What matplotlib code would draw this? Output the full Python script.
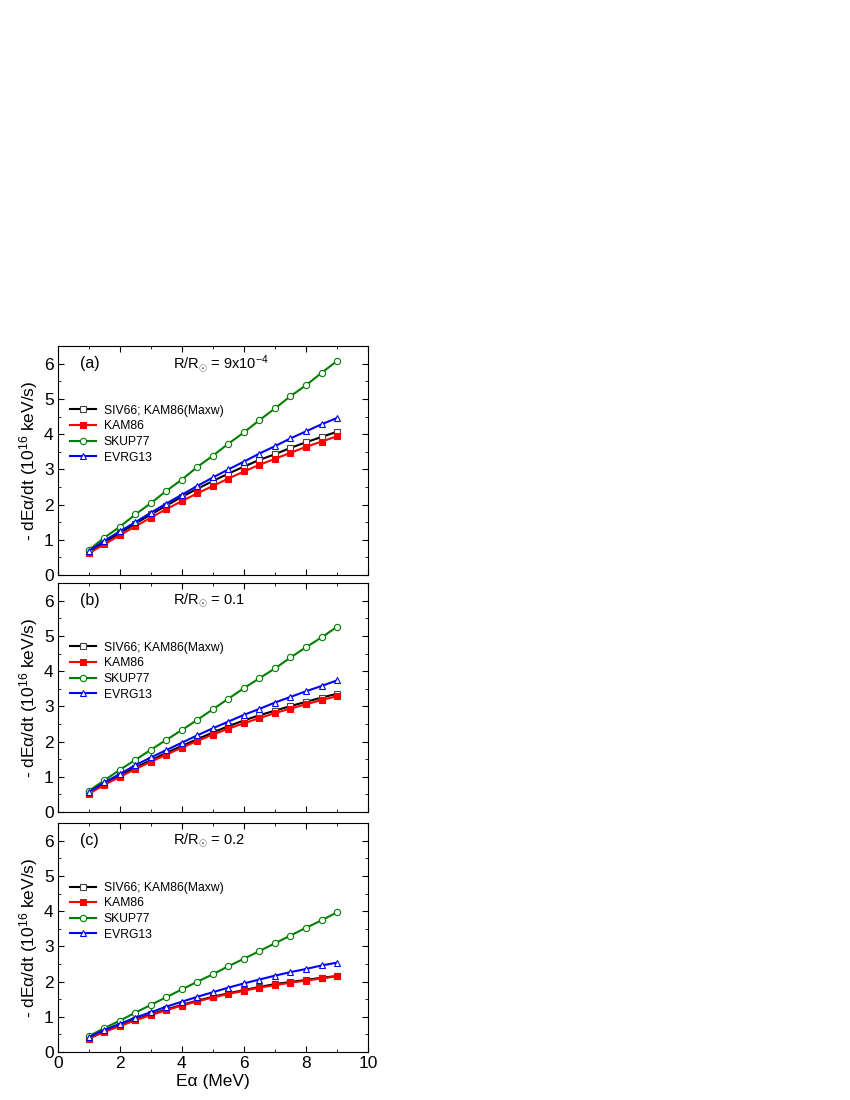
import matplotlib
matplotlib.use("Agg")
import matplotlib.pyplot as plt
from matplotlib.ticker import MultipleLocator

plt.rcParams['font.family'] = ['Liberation Sans', 'DejaVu Sans']
plt.rcParams['mathtext.fontset'] = 'custom'
plt.rcParams['mathtext.rm'] = 'Liberation Sans'
plt.rcParams['mathtext.it'] = 'Liberation Sans:italic'

energy = [1.0, 1.5, 2.0, 2.5, 3.0, 3.5, 4.0, 4.5, 5.0, 5.5, 6.0, 6.5, 7.0, 7.5, 8.0, 8.5, 9.0]

# panel (a)  R/Rsun = 9e-4
siv66_a = [0.65, 0.93, 1.19, 1.46, 1.72, 1.97, 2.22, 2.45, 2.67, 2.88, 3.08, 3.27, 3.43, 3.61, 3.77, 3.92, 4.07]
kam86_a = [0.62, 0.87, 1.13, 1.38, 1.63, 1.87, 2.10, 2.32, 2.53, 2.74, 2.94, 3.13, 3.30, 3.47, 3.64, 3.79, 3.94]
skup77_a = [0.71, 1.06, 1.37, 1.72, 2.04, 2.39, 2.71, 3.07, 3.39, 3.73, 4.05, 4.40, 4.73, 5.08, 5.39, 5.74, 6.08]
evrg13_a = [0.68, 0.97, 1.24, 1.50, 1.77, 2.03, 2.28, 2.53, 2.77, 3.00, 3.22, 3.45, 3.66, 3.88, 4.08, 4.28, 4.46]

# panel (b)  R/Rsun = 0.1
siv66_b = [0.55, 0.81, 1.04, 1.26, 1.47, 1.68, 1.88, 2.07, 2.26, 2.44, 2.60, 2.75, 2.88, 3.01, 3.13, 3.25, 3.36]
kam86_b = [0.52, 0.77, 1.00, 1.22, 1.43, 1.63, 1.83, 2.02, 2.20, 2.37, 2.52, 2.67, 2.81, 2.94, 3.06, 3.18, 3.29]
skup77_b = [0.60, 0.90, 1.20, 1.48, 1.77, 2.05, 2.33, 2.62, 2.92, 3.22, 3.52, 3.80, 4.08, 4.39, 4.68, 4.96, 5.26]
evrg13_b = [0.57, 0.84, 1.08, 1.33, 1.55, 1.76, 1.97, 2.18, 2.38, 2.57, 2.76, 2.93, 3.11, 3.27, 3.43, 3.58, 3.74]

# panel (c)  R/Rsun = 0.2
siv66_c = [0.40, 0.59, 0.76, 0.92, 1.07, 1.21, 1.34, 1.46, 1.57, 1.67, 1.76, 1.85, 1.93, 1.99, 2.05, 2.11, 2.16]
kam86_c = [0.38, 0.57, 0.74, 0.90, 1.05, 1.19, 1.32, 1.44, 1.55, 1.65, 1.74, 1.83, 1.90, 1.97, 2.03, 2.09, 2.15]
skup77_c = [0.45, 0.68, 0.89, 1.12, 1.34, 1.56, 1.78, 2.00, 2.21, 2.44, 2.65, 2.87, 3.09, 3.31, 3.53, 3.74, 3.97]
evrg13_c = [0.42, 0.63, 0.80, 0.98, 1.13, 1.29, 1.43, 1.57, 1.70, 1.83, 1.95, 2.06, 2.17, 2.27, 2.36, 2.46, 2.54]

panel_tags = ["(a)", "(b)", "(c)"]
radius_labels = [r"R/R$_{\odot}$ = 9x10$^{-4}$", r"R/R$_{\odot}$ = 0.1", r"R/R$_{\odot}$ = 0.2"]
series_names = ["SIV66; KAM86(Maxw)", "KAM86", "SKUP77", "EVRG13"]

panels = [
    [siv66_a, kam86_a, skup77_a, evrg13_a],
    [siv66_b, kam86_b, skup77_b, evrg13_b],
    [siv66_c, kam86_c, skup77_c, evrg13_c],
]

styles = [
    dict(color="black", marker="s", mfc="white", mec="#444444"),
    dict(color="#ff0000", marker="s", mfc="#ff0000", mec="#ff0000"),
    dict(color="#008000", marker="o", mfc="white", mec="#008000"),
    dict(color="#0000ff", marker="^", mfc="white", mec="#0000ff"),
]

fig = plt.figure(figsize=(8.5, 11), dpi=100)
bottoms = [0.4773, 0.2618, 0.0436]
left, width, height = 0.068, 0.365, 0.208

for i, data in enumerate(panels):
    ax = fig.add_axes([left, bottoms[i], width, height])
    for vals, name, st in zip(data, series_names, styles):
        ax.plot(energy, vals, label=name, lw=1.5, ms=4.5, mew=0.8, **st)
    ax.set_xlim(0, 10)
    ax.set_ylim(0, 6.5)
    ax.xaxis.set_major_locator(MultipleLocator(2))
    ax.xaxis.set_minor_locator(MultipleLocator(1))
    ax.yaxis.set_major_locator(MultipleLocator(1))
    ax.yaxis.set_minor_locator(MultipleLocator(0.5))
    ax.tick_params(which="both", direction="in", top=True, right=True, labelsize=12.5)
    ax.tick_params(which="major", length=4, pad=3)
    ax.tick_params(which="minor", length=2.5)
    ax.set_ylabel("- dE\u03b1/dt (10$^{16}$ keV/s)", fontsize=12.5, labelpad=3)
    if i < 2:
        ax.set_xticklabels([])
    else:
        ax.set_xlabel("E\u03b1 (MeV)", fontsize=12.5, labelpad=2)
    ax.text(0.7, 6.0, panel_tags[i], fontsize=11.5, va="center")
    ax.text(3.7, 6.0, radius_labels[i], fontsize=10.5, va="center")
    ax.legend(loc="upper left", bbox_to_anchor=(0.015, 0.776), frameon=False,
              fontsize=8.7, handlelength=2.2, handletextpad=0.6,
              labelspacing=0.3, borderaxespad=0.2)

fig.savefig("out.png", dpi=100)
